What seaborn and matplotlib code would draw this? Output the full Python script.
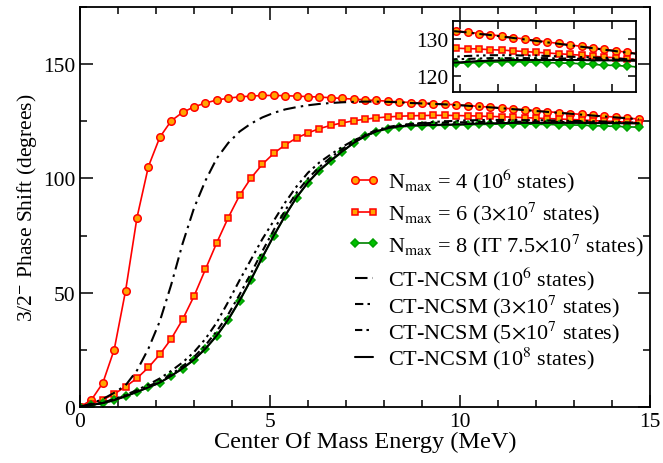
import numpy as np
import seaborn as sns
import matplotlib.pyplot as plt
from matplotlib.ticker import MultipleLocator

# energies (MeV), one point every 0.3 MeV
energy = [0.0, 0.3, 0.6, 0.9, 1.2, 1.5, 1.8, 2.1, 2.4, 2.7,
          3.0, 3.3, 3.6, 3.9, 4.2, 4.5, 4.8, 5.1, 5.4, 5.7,
          6.0, 6.3, 6.6, 6.9, 7.2, 7.5, 7.8, 8.1, 8.4, 8.7,
          9.0, 9.3, 9.6, 9.9, 10.2, 10.5, 10.8, 11.1, 11.4, 11.7,
          12.0, 12.3, 12.6, 12.9, 13.2, 13.5, 13.8, 14.1, 14.4, 14.7]

# phase shifts (degrees)
nmax4 = [0.0, 3.1, 10.5, 25.1, 50.9, 82.9, 105.2, 118.0, 125.2, 128.9,
         131.3, 133.0, 134.3, 135.1, 135.7, 136.0, 136.3, 136.3, 136.2, 136.0,
         135.8, 135.6, 135.3, 135.0, 134.7, 134.4, 134.1, 133.8, 133.5, 133.2,
         133.0, 132.7, 132.5, 132.2, 131.9, 131.5, 131.2, 130.8, 130.4, 130.0,
         129.6, 129.2, 128.8, 128.4, 128.0, 127.6, 127.2, 126.8, 126.4, 126.0]
nmax6 = [0.0, 1.5, 3.2, 5.7, 8.9, 12.6, 17.3, 23.0, 29.8, 38.3,
         48.5, 60.2, 71.9, 82.8, 92.6, 100.2, 106.2, 111.0, 114.7, 117.7,
         119.9, 121.8, 123.2, 124.3, 125.2, 125.9, 126.5, 126.9, 127.2, 127.4,
         127.5, 127.6, 127.6, 127.5, 127.4, 127.3, 127.1, 127.0, 126.8, 126.6,
         126.4, 126.2, 126.0, 125.8, 125.6, 125.3, 125.1, 124.9, 124.6, 124.4]
nmax8 = [0.0, 1.0, 1.6, 2.9, 4.7, 6.6, 8.6, 10.5, 13.7, 16.8,
         20.6, 25.4, 31.1, 38.0, 46.3, 55.5, 65.4, 74.8, 83.6, 91.6,
         98.1, 103.4, 107.6, 111.5, 115.6, 118.4, 120.4, 121.7, 122.5, 122.9,
         123.1, 123.2, 123.3, 123.4, 123.5, 123.6, 123.7, 123.8, 123.8, 123.8,
         123.7, 123.6, 123.5, 123.4, 123.3, 123.1, 122.9, 122.8, 122.6, 122.4]
ct_1e6 = [0.0, 1.5, 3.5, 6.2, 9.5, 16.0, 25.5, 37.5, 53.5, 71.5,
          87.0, 99.0, 108.8, 115.5, 120.5, 124.0, 126.7, 128.7, 130.2, 131.2,
          132.0, 132.6, 133.0, 133.3, 133.5, 133.6, 133.6, 133.5, 133.3, 133.0,
          132.8, 132.6, 132.4, 132.1, 131.8, 131.4, 131.1, 130.7, 130.3, 129.9,
          129.5, 129.1, 128.7, 128.3, 127.9, 127.5, 127.1, 126.7, 126.3, 125.9]
ct_3e7 = [0.0, 1.2, 2.0, 3.4, 5.3, 7.4, 9.8, 12.5, 15.8, 19.5,
          24.0, 29.8, 37.0, 46.0, 55.5, 64.5, 73.5, 81.5, 89.5, 96.5,
          102.5, 107.0, 110.5, 113.8, 116.6, 118.8, 120.6, 122.0, 123.0, 123.8,
          124.3, 124.7, 125.0, 125.2, 125.4, 125.5, 125.6, 125.6, 125.6, 125.5,
          125.5, 125.4, 125.3, 125.2, 125.1, 125.0, 124.9, 124.7, 124.5, 124.3]
ct_5e7 = [0.0, 1.0, 1.8, 3.2, 5.0, 7.0, 9.1, 11.3, 14.3, 17.8,
          21.9, 27.0, 33.2, 40.5, 49.2, 58.5, 68.2, 77.5, 86.0, 93.8,
          100.0, 105.0, 109.2, 112.8, 116.3, 119.1, 121.1, 122.5, 123.3, 123.8,
          124.1, 124.3, 124.4, 124.5, 124.6, 124.7, 124.8, 124.8, 124.8, 124.8,
          124.8, 124.8, 124.7, 124.7, 124.6, 124.6, 124.5, 124.4, 124.3, 124.2]
ct_1e8 = [0.0, 0.9, 1.7, 3.0, 4.7, 6.6, 8.6, 10.7, 13.6, 16.9,
          20.7, 25.5, 31.3, 38.3, 46.6, 55.8, 65.6, 75.0, 83.8, 91.8,
          98.3, 103.6, 107.9, 111.8, 115.5, 118.5, 120.6, 122.0, 122.8, 123.2,
          123.3, 123.4, 123.5, 123.6, 123.8, 124.0, 124.1, 124.2, 124.3, 124.3,
          124.3, 124.3, 124.3, 124.3, 124.3, 124.2, 124.2, 124.2, 124.1, 124.1]

sns.set_style("ticks")
plt.rcParams['font.family'] = ['Liberation Serif', 'DejaVu Serif']
plt.rcParams['mathtext.fontset'] = 'stix'
for key in ['text.color', 'axes.labelcolor', 'xtick.color', 'ytick.color', 'axes.edgecolor']:
    plt.rcParams[key] = 'black'

TICK_FS = 15.5
LEG_FS = 16

marker_series = [
    (nmax4, r"N$_{\mathrm{max}}$ = 4 (10$^{6}$ states)", 'o', 5.4, '#ff0000', '#ffa500', '#ff0000'),
    (nmax6, r"N$_{\mathrm{max}}$ = 6 (3$\times$10$^{7}$ states)", 's', 4.6, '#ff0000', '#ffa500', '#ff0000'),
    (nmax8, r"N$_{\mathrm{max}}$ = 8 (IT 7.5$\times$10$^{7}$ states)", 'D', 4.0, '#008000', '#00c000', '#00a000'),
]
line_series = [
    (ct_1e6, r"CT-NCSM (10$^{6}$ states)", (0, (6, 2.5, 1.2, 2.5))),
    (ct_3e7, r"CT-NCSM (3$\times$10$^{7}$ states)", (0, (4, 2, 1.2, 2, 1.2, 2))),
    (ct_5e7, r"CT-NCSM (5$\times$10$^{7}$ states)", (0, (3.5, 2, 1.2, 2))),
    (ct_1e8, r"CT-NCSM (10$^{8}$ states)", '-'),
]


def draw(ax, with_labels):
    for y, lab, mk, ms, lc, fc, ec in marker_series:
        sns.lineplot(x=energy, y=y, ax=ax, color=lc, lw=1.2, marker=mk, markersize=ms,
                     markerfacecolor=fc, markeredgecolor=ec, markeredgewidth=1.1,
                     label=lab if with_labels else None, legend=False)
    for y, lab, ls in line_series:
        sns.lineplot(x=energy, y=y, ax=ax, color='black', lw=1.5, linestyle=ls,
                     label=lab if with_labels else None, legend=False)


fig = plt.figure(figsize=(6.63, 4.64), dpi=100)
ax = fig.add_axes([80 / 663, 1 - 408 / 464, 570 / 663, 400 / 464])
draw(ax, True)

ax.set_xlim(0, 15)
ax.set_ylim(0, 175)
ax.xaxis.set_major_locator(MultipleLocator(5))
ax.xaxis.set_minor_locator(MultipleLocator(1))
ax.yaxis.set_major_locator(MultipleLocator(50))
ax.yaxis.set_minor_locator(MultipleLocator(25))
ax.tick_params(which='both', direction='in', top=True, right=True, width=1.1, labelsize=TICK_FS)
ax.tick_params(which='major', length=9)
ax.tick_params(which='minor', length=5)
for s in ax.spines.values():
    s.set_linewidth(1.3)
ax.set_xlabel("Center Of Mass Energy (MeV)", fontsize=17.5, labelpad=0)
ax.set_ylabel(r"3/2$^{-}$ Phase Shift (degrees)", fontsize=15.5, labelpad=3)

# two legend blocks: the N_max rows sit further apart than the CT-NCSM rows
handles, labels = ax.get_legend_handles_labels()
leg_opts = dict(loc='upper left', bbox_transform=fig.transFigure, frameon=False,
                fontsize=LEG_FS, borderpad=0, handlelength=1.4, handletextpad=0.4,
                numpoints=2)
leg1 = ax.legend(handles[:3], labels[:3], bbox_to_anchor=(337 / 663, 1 - 157 / 464),
                 labelspacing=0.25, **leg_opts)
ax.add_artist(leg1)
ax.legend(handles[3:], labels[3:], bbox_to_anchor=(337 / 663, 1 - 255 / 464),
          labelspacing=0.0, **leg_opts)

# inset zoom on the high-energy plateau
axin = fig.add_axes([452.7 / 663, 1 - 93.3 / 464, 183.3 / 663, 71.6 / 464])
draw(axin, False)
axin.set_xlim(9.81, 14.63)
axin.set_ylim(115.5, 135)
axin.xaxis.set_major_locator(MultipleLocator(1))
axin.yaxis.set_major_locator(MultipleLocator(10))
axin.set_xticklabels([])
axin.tick_params(which='both', direction='in', top=True, right=True, width=1.1,
                 length=6, labelsize=TICK_FS, pad=3)
for s in axin.spines.values():
    s.set_linewidth(1.3)
axin.set_xlabel("")
axin.set_ylabel("")

fig.savefig("out.png", dpi=100)
